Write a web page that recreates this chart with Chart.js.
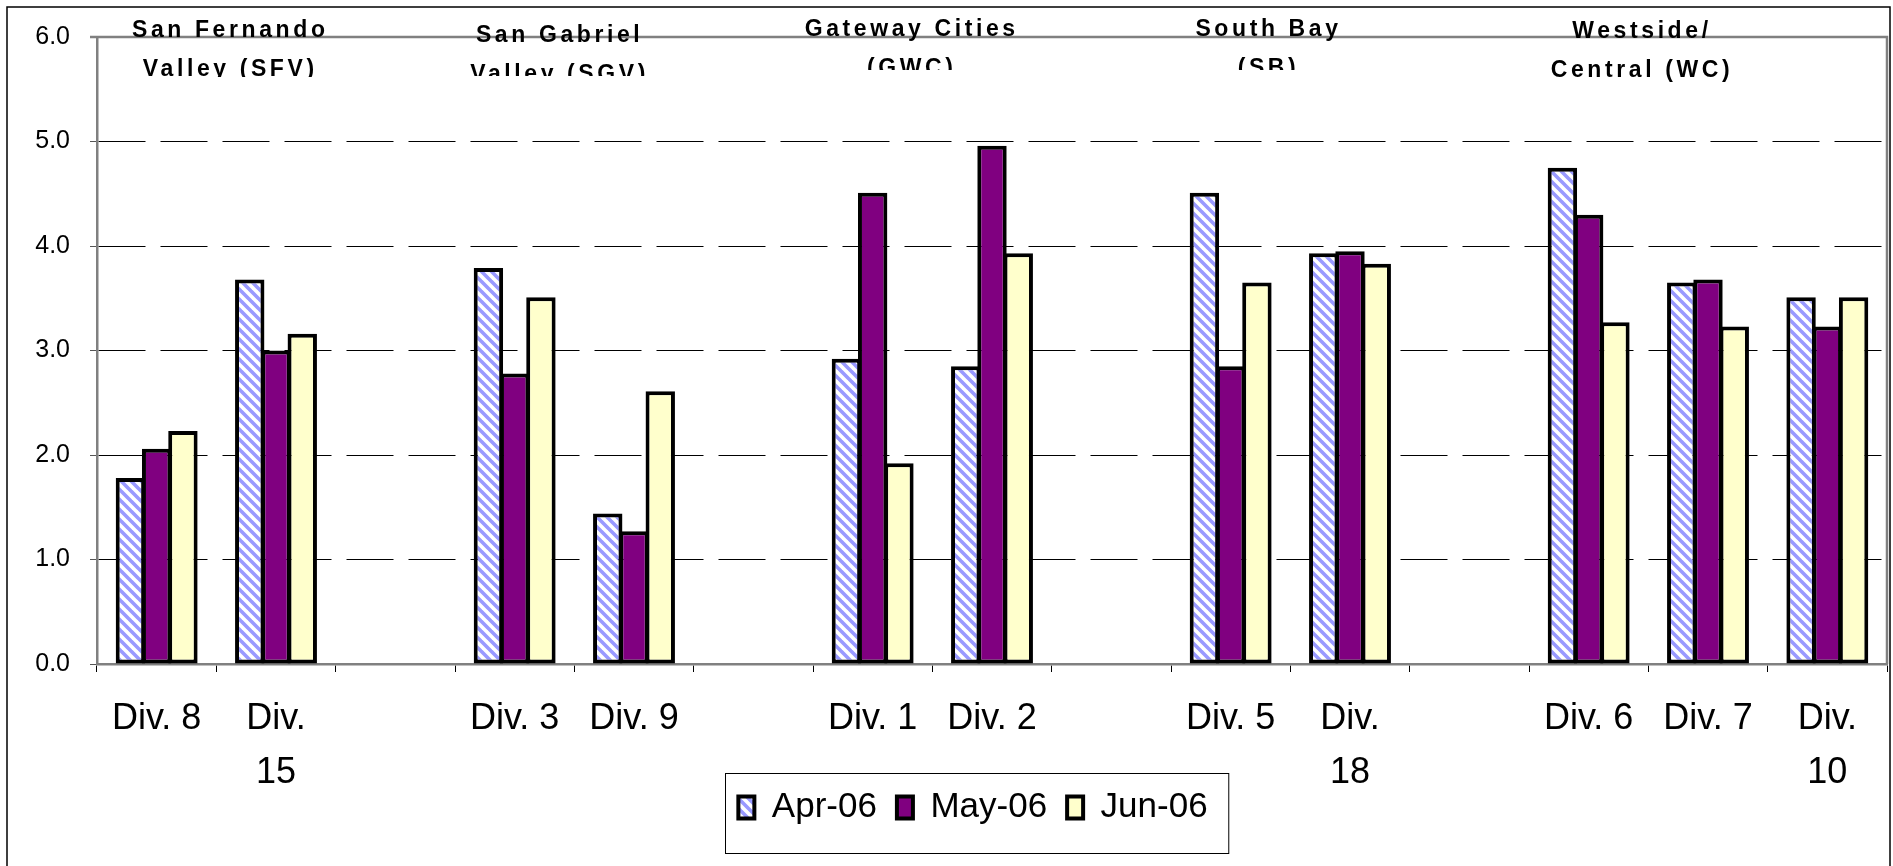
<!DOCTYPE html>
<html>
<head>
<meta charset="utf-8">
<script src="https://cdn.jsdelivr.net/npm/chart.js@4/dist/chart.umd.min.js"></script>
<style>
  html, body { margin: 0; padding: 0; background: #fff; }
  canvas { display: block; }
</style>
</head>
<body>
<canvas id="divChart" width="1893" height="866"></canvas>
<script>
// Data
const divisions = ['Div. 8', 'Div. 15', '', 'Div. 3', 'Div. 9', '', 'Div. 1', 'Div. 2', '', 'Div. 5', 'Div. 18', '', 'Div. 6', 'Div. 7', 'Div. 10'];
const months = ['Apr-06', 'May-06', 'Jun-06'];
const apr06 = [1.78, 3.68, null, 3.79, 1.44, null, 2.92, 2.85, null, 4.51, 3.93, null, 4.75, 3.65, 3.51];
const may06 = [2.06, 3.00, null, 2.78, 1.27, null, 4.51, 4.96, null, 2.85, 3.95, null, 4.30, 3.68, 3.23];
const jun06 = [2.23, 3.16, null, 3.51, 2.61, null, 1.92, 3.93, null, 3.65, 3.83, null, 3.27, 3.23, 3.51];
const yTicks = [0, 1, 2, 3, 4, 5, 6];

// Region headers over the groups
const regionLines = [
    ['San Fernando', 'Valley (SFV)'],
    ['San Gabriel', 'Valley (SGV)'],
    ['Gateway Cities', '(GWC)'],
    ['South Bay', '(SB)'],
    ['Westside/', 'Central (WC)']
];
const regionAt = [0.60, 3.36, 6.31, 9.30, 12.43];   // position in category units
const regionBase = [37, 42, 36, 36, 38];             // baseline of first line
const regionClip = [77, 76, 70, 70, 900];            // text box bottom

const FONT = "'Liberation Sans', Arial, sans-serif";

function hatchPattern() {
    const s = 10;
    const c = document.createElement('canvas');
    c.width = s;
    c.height = s;
    const g = c.getContext('2d');
    g.fillStyle = '#ffffff';
    g.fillRect(0, 0, s, s);
    g.strokeStyle = '#9999ff';
    g.lineWidth = 3.6;
    g.beginPath();
    for (let k = -1; k <= 1; k++) {
        g.moveTo(k * s - 1, -1);
        g.lineTo(k * s + s + 1, s + 1);
    }
    g.stroke();
    return g.createPattern(c, 'repeat');
}

const canvas = document.getElementById('divChart');
const ctx = canvas.getContext('2d');

// Frame, plot border, legend box and region headers
const decorations = {
    id: 'decorations',
    afterLayout(chart) {
        // let tick labels run outside their boxes (no clipping)
        chart.scales.x.bottom = chart.height;
        chart.scales.y.left = 0;
    },
    beforeDraw(chart) {
        const c = chart.ctx;
        c.save();
        c.fillStyle = '#fff';
        c.fillRect(0, 0, chart.width, chart.height);
        c.restore();
    },
    afterDraw(chart) {
        const c = chart.ctx;
        const a = chart.chartArea;
        c.save();
        // outer frame
        c.strokeStyle = '#000';
        c.lineWidth = 1.5;
        c.strokeRect(7, 7, chart.width - 10, chart.height + 20);

        // plot area top / right border
        c.strokeStyle = '#808080';
        c.lineWidth = 2.5;
        c.beginPath();
        c.moveTo(a.left - 7, a.top);
        c.lineTo(a.right, a.top);
        c.lineTo(a.right, a.bottom);
        c.stroke();

        // legend frame
        const hb = chart.legend.legendHitBoxes;
        if (hb && hb.length) {
            const first = hb[0], last = hb[hb.length - 1];
            c.strokeStyle = '#000';
            c.lineWidth = 1;
            const x0 = first.left - 13, x1 = last.left + last.width + 21;
            const y0 = first.top - 17, y1 = first.top + first.height + 28;
            c.strokeRect(Math.round(x0) + 0.5, Math.round(y0) + 0.5, x1 - x0, y1 - y0);
        }

        // region headers
        const xs = chart.scales.x;
        c.fillStyle = '#000';
        c.font = 'bold 23px ' + FONT;
        c.textAlign = 'center';
        c.textBaseline = 'alphabetic';
        c.letterSpacing = '3.6px';
        regionLines.forEach((lines, i) => {
            c.save();
            c.beginPath();
            c.rect(0, 0, chart.width, regionClip[i]);
            c.clip();
            const x = xs.getPixelForValue(regionAt[i]) + 2;
            lines.forEach((t, j) => {
                c.save();
                c.translate(x, regionBase[i] + j * 39);
                c.scale(1, 1.08);
                c.fillText(t, 0, 0);
                c.restore();
            });
            c.restore();
        });
        c.restore();
    }
};

const barStyle = {
    borderColor: '#000000',
    borderWidth: 4,
    borderSkipped: false,
    categoryPercentage: 0.66,
    barPercentage: 1.12
};

new Chart(ctx, {
    type: 'bar',
    data: {
        labels: divisions,
        datasets: [
            Object.assign({ label: months[0], data: apr06, backgroundColor: hatchPattern() }, barStyle),
            Object.assign({ label: months[1], data: may06, backgroundColor: '#800080' }, barStyle),
            Object.assign({ label: months[2], data: jun06, backgroundColor: '#ffffcc' }, barStyle)
        ]
    },
    options: {
        responsive: false,
        animation: false,
        layout: { padding: { left: 59, right: 6, top: 37, bottom: 31 } },
        plugins: {
            tooltip: { enabled: false },
            legend: {
                position: 'bottom',
                labels: {
                    color: '#000',
                    font: { family: FONT, size: 35 },
                    boxWidth: 16,
                    boxHeight: 22,
                    padding: 20
                }
            }
        },
        scales: {
            x: {
                grid: {
                    offset: true,
                    drawOnChartArea: false,
                    drawTicks: true,
                    tickLength: 8,
                    tickColor: '#000',
                    tickWidth: 1
                },
                border: { color: '#808080', width: 2.5 },
                ticks: {
                    color: '#000',
                    font: { family: FONT, size: 36, lineHeight: 1.5 },
                    padding: 20,
                    maxRotation: 0,
                    autoSkip: false,
                    callback: function(v) {
                        const lbl = this.getLabelForValue(v);
                        return lbl.length > 6 ? ['Div.', lbl.slice(5)] : lbl;
                    }
                },
                afterFit(scale) { scale.height = 106; }
            },
            y: {
                min: yTicks[0],
                max: yTicks[yTicks.length - 1],
                afterBuildTicks(scale) { scale.ticks = yTicks.map(v => ({ value: v })); },
                grid: {
                    color: c => (c.tick && (c.tick.value === 0 || c.tick.value === 6)) ? 'rgba(0,0,0,0)' : '#000',
                    lineWidth: 1,
                    tickLength: 7,
                    tickColor: '#555',
                    tickWidth: 1
                },
                border: { color: '#808080', width: 2.5, dash: [47, 15] },
                ticks: {
                    color: '#000',
                    font: { family: FONT, size: 25 },
                    padding: 20,
                    callback: v => v.toFixed(1)
                },
                afterFit(scale) { scale.width = 38; }
            }
        }
    },
    plugins: [decorations]
});
</script>
</body>
</html>
